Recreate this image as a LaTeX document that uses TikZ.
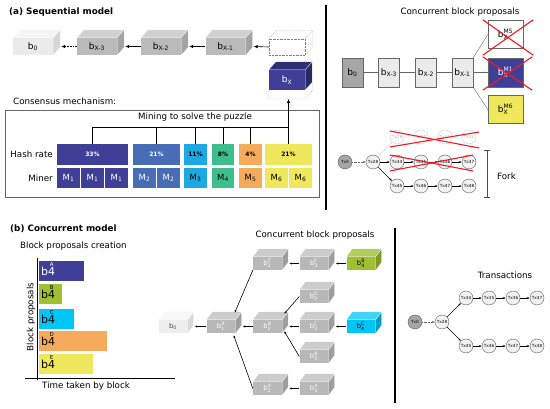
\documentclass[tikz,border=0pt]{standalone}
\usepackage{fontspec}
\setmainfont{DejaVu Sans}
\usepackage{amsmath}
\usetikzlibrary{arrows.meta, positioning, calc}
\definecolor{minerone}{RGB}{63, 63, 152}
\definecolor{minertwo}{RGB}{72, 108, 182}
\definecolor{minerthree}{RGB}{28, 168, 226}
\definecolor{minerfour}{RGB}{62, 190, 140}
\definecolor{minerfive}{RGB}{245, 170, 92}
\definecolor{minersix}{RGB}{240, 232, 92}
\definecolor{propgreen}{RGB}{160, 192, 52}
\definecolor{propcyan}{RGB}{0, 198, 245}
\definecolor{crossred}{RGB}{238, 28, 36}

% top and side faces of a block (node, top colour, side colour, depth)
\newcommand{\cubefaces}[4]{%
  \filldraw[draw=white, very thin, fill=#2] (#1.north west) -- ++(#4,-8) -- ([shift={(#4,-8)}]#1.north east) -- (#1.north east) -- cycle;
  \filldraw[draw=white, very thin, fill=#3] (#1.north east) -- ++(#4,-8) -- ([shift={(#4,-8)}]#1.south east) -- (#1.south east) -- cycle;
}
% block names
\newcommand{\blk}[2]{b$^{\text{#2}}_{\text{#1}}$}
\newcommand{\barlab}[1]{b\ooalign{4\cr\hidewidth\raisebox{0.8em}{\fontsize{5.5}{5.5}\selectfont #1}\hidewidth\cr}}

\begin{document}
\begin{tikzpicture}[
    x=1pt, y=-1pt,
    >=Latex,
    title/.style={font=\fontsize{8.8}{10}\selectfont\bfseries, anchor=west, inner sep=0pt},
    caption/.style={font=\fontsize{8.7}{10}\selectfont, inner sep=0pt},
    cube/.style={minimum width=40pt, minimum height=17pt, inner sep=0pt, font=\fontsize{9}{10}\selectfont},
    minicube/.style={minimum width=29pt, minimum height=13pt, inner sep=0pt, fill=black!28, text=white, font=\fontsize{6.8}{7}\selectfont},
    flat/.style={draw=black!60, minimum width=21pt, minimum height=29pt, inner sep=0pt, font=\fontsize{9}{10}\selectfont},
    proposal/.style={draw=black!60, minimum width=35pt, minimum height=28pt, inner sep=0pt, font=\fontsize{9}{10}\selectfont},
    hash/.style={minimum height=21pt, inner sep=0pt, font=\fontsize{6}{7}\selectfont\bfseries},
    miner/.style={minimum width=23pt, minimum height=20pt, inner sep=0pt, font=\fontsize{8.5}{9}\selectfont},
    propbar/.style={anchor=west, minimum height=20pt, inner xsep=2pt, inner ysep=0pt, align=left, font=\fontsize{11}{11}\selectfont},
    tx/.style={circle, draw=black!65, fill=black!5, minimum size=14pt, inner sep=0pt, font=\fontsize{4.2}{4.5}\selectfont},
    faded/.style={tx, draw=black!20, fill=white, text=black!30},
    arrow/.style={-{Latex[length=4pt, width=3.5pt]}, semithick},
    txarrow/.style={-{Latex[length=2.5pt, width=2.2pt]}, thin},
    cross/.style={crossred, line width=1.1pt}
]
\fill[white] (0,0) rectangle (550,409);
\useasboundingbox (0,0) rectangle (550,409);

% === (a) Sequential model ===
\node[title] (titlea) at (9,12) {(a) Sequential model};

% Cadena de bloques
\node[cube, fill=black!8] (b0) at (33,46.5) {b$_\text{0}$};
\cubefaces{b0}{black!4}{black!16}{7}
\node[cube, fill=black!27] (bx3) at (97,46.5) {b$_\text{X-3}$};
\cubefaces{bx3}{black!18}{black!36}{7}
\node[cube, fill=black!27] (bx2) at (161,46.5) {b$_\text{X-2}$};
\cubefaces{bx2}{black!18}{black!36}{7}
\node[cube, fill=black!27] (bx1) at (225.5,46.5) {b$_\text{X-1}$};
\cubefaces{bx1}{black!18}{black!36}{7}

% Hueco del nuevo bloque
\node[cube, minimum width=36pt, minimum height=16pt, draw=black!50, densely dotted] (bxd) at (287,47) {};
\draw[black!50, densely dotted] (bxd.north west) -- ++(7,-8) -- ([shift={(7,-8)}]bxd.north east) -- ([shift={(7,-8)}]bxd.south east) -- (bxd.south east);
\draw[black!50, densely dotted] ([shift={(7,-8)}]bxd.north east) -- (bxd.north east);

% Nuevo bloque
\node[cube, minimum width=36pt, minimum height=20pt, fill=minerone, text=white] (bx) at (287,80) {b$_\text{X}$};
\cubefaces{bx}{minerone!75!black}{minerone!65!black}{7}
\coordinate (bxbase) at (287,99);
\draw[black!50, densely dotted] (bx.south west) -- (bx.south west |- bxbase) -- (bx.south east |- bxbase) -- ++(7,-8) -- ([shift={(7,-8)}]bx.south east);

% Flechas de la cadena
\draw[arrow, densely dotted] (bx3.west) -- ([xshift=8pt]b0.east);
\draw[arrow] (bx2.west) -- ([xshift=8pt]bx3.east);
\draw[arrow] (bx1.west) -- ([xshift=8pt]bx2.east);
\draw[arrow] (bxd.west) -- ([xshift=8pt]bx1.east);

% === Consensus mechanism ===
\node[caption, anchor=west] (consensus) at (13,101) {Consensus mechanism:};
\draw[black!60] (5,110) rectangle (319,197);
\node[caption] (mining) at (195,117) {Mining to solve the puzzle};
\node[caption, anchor=east] (hashlab) at (53,154.5) {Hash rate};
\node[caption, anchor=east] (minerlab) at (53,178) {Miner};

% Hash rate
\node[hash, minimum width=71pt, fill=minerone, text=white] (h33) at (92.5,154.5) {33\%};
\node[hash, minimum width=47pt, fill=minertwo, text=white] (h21a) at (156.5,154.5) {21\%};
\node[hash, minimum width=23pt, fill=minerthree] (h11) at (195.5,154.5) {11\%};
\node[hash, minimum width=22pt, fill=minerfour] (h8) at (223,154.5) {8\%};
\node[hash, minimum width=23pt, fill=minerfive] (h4) at (250.5,154.5) {4\%};
\node[hash, minimum width=47pt, fill=minersix] (h21b) at (288.5,154.5) {21\%};

% Miners
\node[miner, fill=minerone, text=white] (m1a) at (68.5,178) {M$_\text{1}$};
\node[miner, fill=minerone, text=white] (m1b) at (92.5,178) {M$_\text{1}$};
\node[miner, fill=minerone, text=white] (m1c) at (116.5,178) {M$_\text{1}$};
\node[miner, fill=minertwo, text=white] (m2a) at (144.5,178) {M$_\text{2}$};
\node[miner, fill=minertwo, text=white] (m2b) at (168.5,178) {M$_\text{2}$};
\node[miner, fill=minerthree] (m3) at (195.5,178) {M$_\text{3}$};
\node[miner, minimum width=22pt, fill=minerfour] (m4) at (223,178) {M$_\text{4}$};
\node[miner, fill=minerfive] (m5) at (250.5,178) {M$_\text{5}$};
\node[miner, fill=minersix] (m6a) at (276.5,178) {M$_\text{6}$};
\node[miner, fill=minersix] (m6b) at (300.5,178) {M$_\text{6}$};

% Mining lines
\coordinate (mineline) at (0,127);
\draw (h33.north) |- (h21b.north |- mineline);
\draw (h21a.north) -- (h21a.north |- mineline);
\draw (h11.north) -- (h11.north |- mineline);
\draw (h8.north) -- (h8.north |- mineline);
\draw (h4.north) -- (h4.north |- mineline);
\draw[arrow] (h21b.north) -- (h21b.north |- bxbase);

% Separators
\draw[line width=1.5pt] (326,5) -- (326,210);
\draw[line width=1.2pt] (395,228) -- (395,403);

% === Concurrent block proposals (top) ===
\node[caption] (conctop) at (460,12) {Concurrent block proposals};
\node[flat, fill=black!35] (f0) at (352.5,72.5) {b$_\text{0}$};
\node[flat, fill=black!8] (fx3) at (389,72.5) {b$_\text{X-3}$};
\node[flat, fill=black!8] (fx2) at (426,72.5) {b$_\text{X-2}$};
\node[flat, fill=black!8] (fx1) at (462.5,72.5) {b$_\text{X-1}$};
\node[proposal, fill=white] (pm5) at (505.5,34.5) {\blk{X}{M5}};
\node[proposal, minimum height=29pt, fill=minerone, text=white] (pm1) at (505.5,72.5) {\blk{X}{M1}};
\node[proposal, fill=minersix] (pm6) at (505.5,109.5) {\blk{X}{M6}};
\draw[black!60] (f0) -- (fx3) -- (fx2) -- (fx1) -- (pm1);
\draw[black!60] (fx1.north east) -- (pm5.west);
\draw[black!60] (fx1.south east) -- (pm6.west);
\draw[cross] ([shift={(-5,-0.5)}]pm5.north west) -- ([shift={(10,6.5)}]pm5.south east);
\draw[cross] ([shift={(-5,6.5)}]pm5.south west) -- ([shift={(10,-0.5)}]pm5.north east);
\draw[cross] ([shift={(-5,-1)}]pm1.north west) -- ([shift={(9,3)}]pm1.south east);
\draw[cross] ([shift={(-5,3)}]pm1.south west) -- ([shift={(9,-1)}]pm1.north east);

% Fork de transacciones
\node[tx, fill=black!35] (ft0) at (345,162) {Tx0};
\node[tx] (ft28) at (373,162) {Tx28};
\node[faded] (ft29) at (397,137) {Tx29};
\node[faded] (ft30) at (421,137) {Tx30};
\node[faded] (ft31) at (445,137) {Tx31};
\node[faded] (ft32) at (469,137) {Tx32};
\node[tx] (ft34) at (397,162) {Tx34};
\node[tx] (ft35) at (421,162) {Tx35};
\node[tx] (ft36) at (445,162) {Tx36};
\node[tx] (ft37) at (469,162) {Tx37};
\node[tx] (ft45) at (397,186) {Tx45};
\node[tx] (ft46) at (421,186) {Tx46};
\node[tx] (ft47) at (445,186) {Tx47};
\node[tx] (ft48) at (469,186) {Tx48};
\draw[txarrow, densely dotted, black!60] (ft0) -- (ft28);
\draw[black!20] (ft28) -- (ft29) -- (ft30) -- (ft31) -- (ft32);
\draw[txarrow] (ft28) -- (ft34);
\draw[txarrow] (ft34) -- (ft35);
\draw[txarrow] (ft35) -- (ft36);
\draw[txarrow] (ft36) -- (ft37);
\draw[txarrow] (ft28) -- (ft45);
\draw[txarrow] (ft45) -- (ft46);
\draw[txarrow] (ft46) -- (ft47);
\draw[txarrow] (ft47) -- (ft48);
\draw[cross] ([shift={(0,-6)}]ft29.west) -- ([shift={(3,11)}]ft32.east);
\draw[cross] ([shift={(0,10)}]ft29.west) -- ([shift={(3,-5)}]ft32.east);
\draw[cross] ([shift={(0,-7)}]ft34.west) -- ([shift={(-3,9)}]ft37.east);
\draw[cross] ([shift={(0,9)}]ft34.west) -- ([shift={(-3,-7)}]ft37.east);
\coordinate (forktop) at (487,150);
\coordinate (forkbot) at (487,197);
\draw[{Bar[width=6pt]}-{Bar[width=6pt]}, black!70] (forktop) -- (forkbot);
\node[caption, anchor=west] (fork) at (497,176) {Fork};

% === (b) Concurrent model ===
\node[title] (titleb) at (10,229) {(b) Concurrent model};
\node[caption, anchor=west] (creation) at (20,246) {Block proposals creation};
\draw (37,258) -- (37,380);
\draw (25,378) -- (175,378);
\node[caption, anchor=west] (timelab) at (42,386) {Time taken by block};
\node[caption, rotate=90] (proplab) at (31,317) {Block proposals};
\node[propbar, fill=minerone, text=white, text width=41pt] (pA) at (39,271) {\barlab{A}};
\node[propbar, fill=propgreen, text width=19pt] (pB) at (39,294) {\barlab{B}};
\node[propbar, fill=propcyan, text width=31pt] (pC) at (39,319) {\barlab{C}};
\node[propbar, fill=minerfive, text width=64pt] (pD) at (39,341.5) {\barlab{D}};
\node[propbar, fill=minersix, text width=50pt] (pE) at (39,364) {\barlab{E}};

% Bloques concurrentes
\node[caption] (concbot) at (315,235) {Concurrent block proposals};
\node[minicube, fill=black!7, text=black!70] (c0) at (173,326.5) {b$_\text{0}$};
\cubefaces{c0}{black!3}{black!15}{6}
\node[minicube] (c1A) at (221,326.5) {\blk{1}{A}};
\cubefaces{c1A}{black!20}{black!38}{6}
\node[minicube] (c2C) at (267.5,263.5) {\blk{2}{C}};
\cubefaces{c2C}{black!20}{black!38}{6}
\node[minicube] (c2B) at (267.5,326.5) {\blk{2}{B}};
\cubefaces{c2B}{black!20}{black!38}{6}
\node[minicube] (c2A) at (267.5,388.5) {\blk{2}{A}};
\cubefaces{c2A}{black!20}{black!38}{6}
\node[minicube] (c3F) at (314,263.5) {\blk{3}{F}};
\cubefaces{c3F}{black!20}{black!38}{6}
\node[minicube] (c3D) at (314,296.5) {\blk{3}{D}};
\cubefaces{c3D}{black!20}{black!38}{6}
\node[minicube] (c3C) at (314,326.5) {\blk{3}{C}};
\cubefaces{c3C}{black!20}{black!38}{6}
\node[minicube] (c3B) at (314,356.5) {\blk{3}{B}};
\cubefaces{c3B}{black!20}{black!38}{6}
\node[minicube] (c3A) at (314,388.5) {\blk{3}{A}};
\cubefaces{c3A}{black!20}{black!38}{6}
\node[minicube, fill=propgreen, text=black] (c4B) at (361,263.5) {\blk{4}{B}};
\cubefaces{c4B}{propgreen!80!white}{propgreen!80!black}{6}
\node[minicube, fill=propcyan, text=black] (c4C) at (361,326.5) {\blk{4}{C}};
\cubefaces{c4C}{propcyan!75!white}{propcyan!80!black}{6}

\draw[txarrow, semithick] (c1A.west) -- ([xshift=7pt]c0.east);
\draw[txarrow, semithick] (c2B.west) -- ([xshift=7pt]c1A.east);
\draw[txarrow, semithick] (c2C.south west) -- ([shift={(-1,-7)}]c1A.north east);
\draw[txarrow, semithick] (c2A.west) -- ([shift={(-2,2)}]c1A.south east);
\draw[txarrow, semithick] (c3F.west) -- ([xshift=7pt]c2C.east);
\draw[txarrow, semithick] (c3C.west) -- ([xshift=7pt]c2B.east);
\draw[txarrow, semithick] (c3D.west) -- ([shift={(2,-6)}]c2B.north east);
\draw[txarrow, semithick] (c3B.west) -- ([shift={(2,-2)}]c2B.south east);
\draw[txarrow, semithick] (c3A.west) -- ([xshift=7pt]c2A.east);
\draw[txarrow, semithick] (c4B.west) -- ([xshift=7pt]c3F.east);
\draw[txarrow, semithick] (c4C.west) -- ([xshift=7pt]c3C.east);

% Transactions
\node[caption] (translab) at (505,275) {Transactions};
\node[tx, fill=black!35] (t0) at (415,322) {Tx0};
\node[tx] (t28) at (442,322) {Tx28};
\node[tx] (t34) at (466,298) {Tx34};
\node[tx] (t35) at (489,298) {Tx35};
\node[tx] (t36) at (513,298) {Tx36};
\node[tx] (t37) at (537,298) {Tx37};
\node[tx] (t45) at (466,346) {Tx45};
\node[tx] (t46) at (489,346) {Tx46};
\node[tx] (t47) at (513,346) {Tx47};
\node[tx] (t48) at (537,346) {Tx48};
\draw[txarrow, densely dotted, black!60] (t0) -- (t28);
\draw[txarrow] (t28) -- (t34);
\draw[txarrow] (t34) -- (t35);
\draw[txarrow] (t35) -- (t36);
\draw[txarrow] (t36) -- (t37);
\draw[txarrow] (t28) -- (t45);
\draw[txarrow] (t45) -- (t46);
\draw[txarrow] (t46) -- (t47);
\draw[txarrow] (t47) -- (t48);

\end{tikzpicture}
\end{document}
